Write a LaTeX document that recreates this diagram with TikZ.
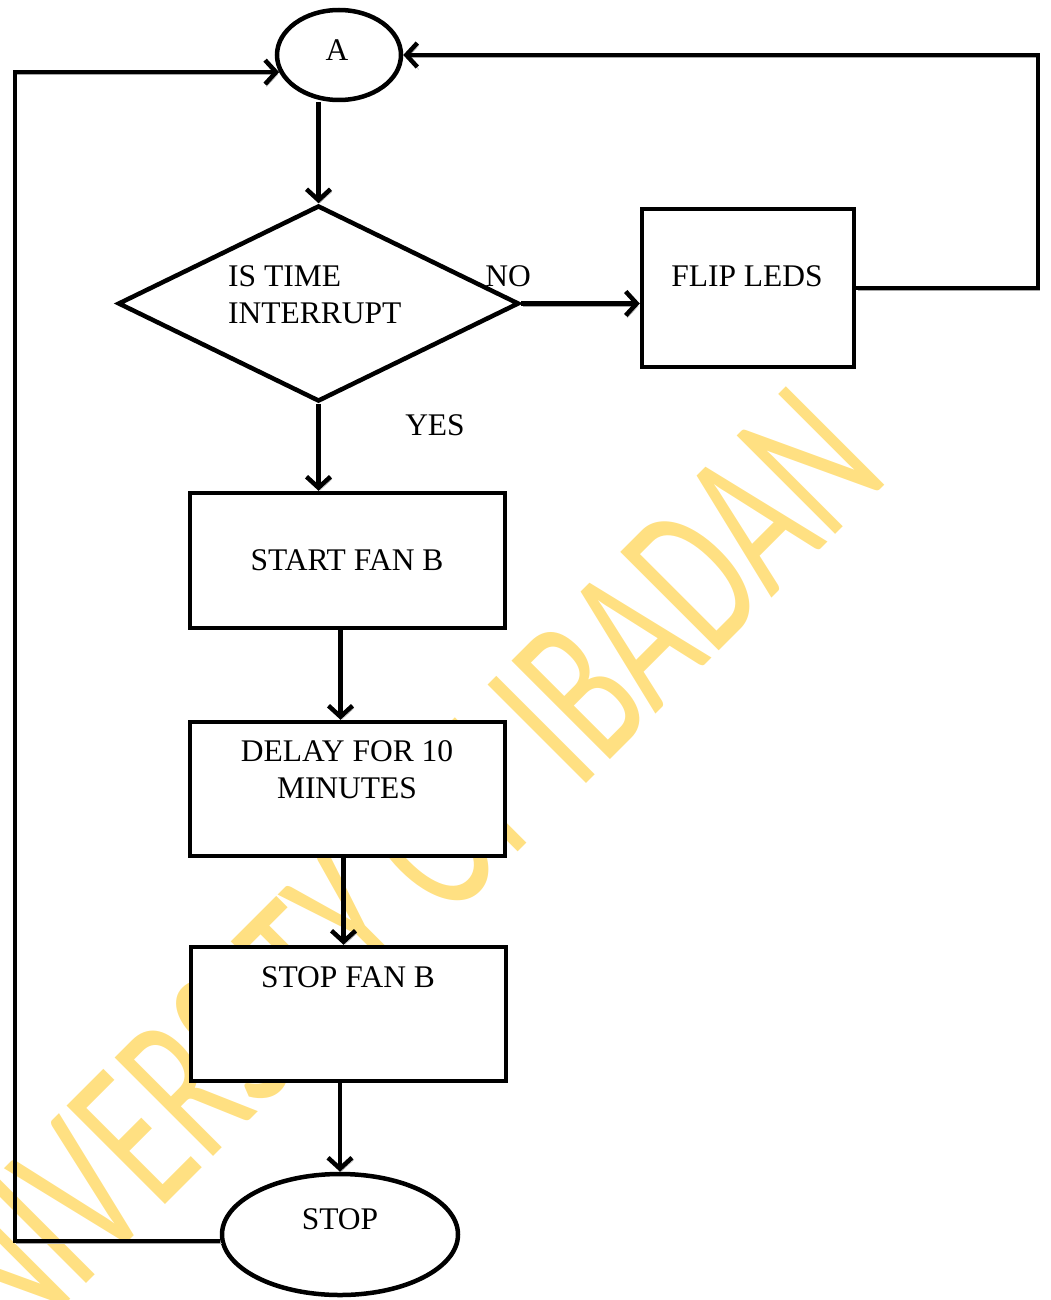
\documentclass[tikz,border=0pt]{standalone}
\usepackage{fontspec}
\setmainfont{Liberation Serif}
\newfontfamily\markfont{Carlito}
\usetikzlibrary{shapes.geometric,arrows.meta,calc}
\definecolor{markyellow}{RGB}{255,224,130}

\begin{document}
\begin{tikzpicture}[x=1pt,y=-1pt,
  outline/.style={draw, fill=white, line width=4.5pt},
  procbox/.style={outline, rectangle, inner sep=0},
  term/.style={outline, ellipse, inner sep=0},
  decision/.style={outline, diamond, inner sep=0},
  lbl/.style={font=\fontsize{31.5}{37}\selectfont, inner sep=0},
  flow/.style={line width=4.5pt, -{Straight Barb[length=11pt,width=24pt]},
    preaction={draw=black!35, transform canvas={shift={(1.5pt,-2.5pt)}}}}
]
\useasboundingbox (0,0) rectangle (1050,1300);
\clip (0,0) rectangle (1050,1300);

% watermark behind the chart
\node[rotate=45, xscale=0.64, anchor=base east, text=markyellow, inner sep=0,
      font=\markfont\fontsize{217}{217}\selectfont] (wm) at (892,478) {UNIVERSITY OF IBADAN};

% shapes
\node[term, minimum width=124, minimum height=90] (A) at (339,55) {};
\node[decision, minimum width=401, minimum height=196] (dec) at (318.5,303.5) {};
\node[procbox, minimum width=212, minimum height=158] (flip) at (748,288) {};
\node[procbox, minimum width=315, minimum height=135] (start) at (347.5,560.5) {};
\node[procbox, minimum width=315, minimum height=134] (delay) at (347.5,789) {};
\node[procbox, minimum width=315, minimum height=134] (stopfan) at (348.5,1014) {};
\node[term, minimum width=236, minimum height=121] (stop) at (340,1234.5) {};

% texts
\node[lbl] (tA) at (337,50) {A};
\node[lbl, align=left, anchor=west] (tdec) at (228,294.5) {IS TIME\\INTERRUPT};
\node[lbl] (tno) at (508,276) {NO};
\node[lbl] (tyes) at (435,425) {YES};
\node[lbl] (tflip) at (747,276) {FLIP LEDS};
\node[lbl] (tstart) at (347,560) {START FAN B};
\node[lbl, align=center] (tdelay) at (347,770) {DELAY FOR 10\\MINUTES};
\node[lbl] (tstopfan) at (348,977) {STOP FAN B};
\node[lbl] (tstop) at (340,1219) {STOP};

% turning points of the two loops
\coordinate (rturn) at (1038,55);
\coordinate (lturn) at (15,0);

% connectors
\draw[flow] (A.south -| dec.north) -- (dec.north);
\draw[flow] (dec.east) -- (dec.east -| flip.west);
\draw[flow] (flip.east) -| (rturn) -- (rturn -| A.east);
\draw[flow] (dec.south) -- (dec.south |- start.north);
\draw[flow] ([xshift=-7pt]start.south) -- ([xshift=-7pt]delay.north);
\draw[flow] ([xshift=-5pt]stopfan.north |- delay.south) -- ([xshift=-5pt]stopfan.north);
\draw[flow] (stopfan.south -| stop.north) -- (stop.north);
\draw[flow] (stop.183) -- (stop.183 -| lturn) |- (A.196);
\end{tikzpicture}
\end{document}
